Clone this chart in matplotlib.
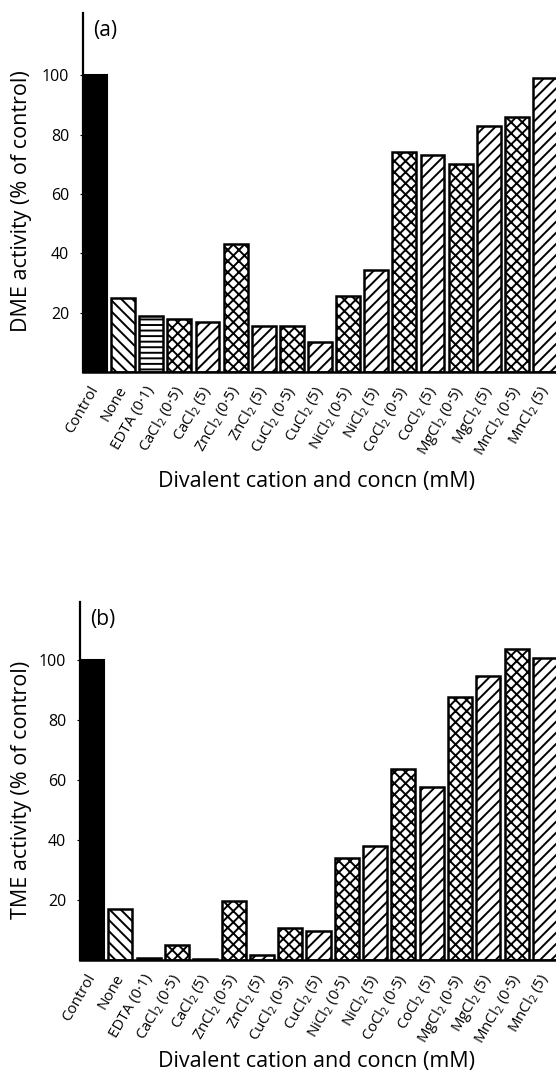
import matplotlib
matplotlib.use("Agg")
import matplotlib.pyplot as plt

plt.rcParams['font.family'] = ['Open Sans', 'DejaVu Sans']
plt.rcParams['hatch.linewidth'] = 1.4
plt.rcParams['mathtext.fontset'] = 'custom'
plt.rcParams['mathtext.rm'] = 'Open Sans'

categories = ['Control', 'None', 'EDTA (0·1)', r'CaCl$_2$ (0·5)', r'CaCl$_2$ (5)',
              r'ZnCl$_2$ (0·5)', r'ZnCl$_2$ (5)', r'CuCl$_2$ (0·5)', r'CuCl$_2$ (5)',
              r'NiCl$_2$ (0·5)', r'NiCl$_2$ (5)', r'CoCl$_2$ (0·5)', r'CoCl$_2$ (5)',
              r'MgCl$_2$ (0·5)', r'MgCl$_2$ (5)', r'MnCl$_2$ (0·5)', r'MnCl$_2$ (5)']
dme_values = [100, 25, 19, 18, 17, 43, 15.5, 15.5, 10, 25.5, 34.5, 74, 73, 70, 83, 86, 99]
tme_values = [100, 17, 0.5, 5, 0.2, 19.5, 1.8, 10.7, 9.8, 34, 38, 63.5, 57.5, 87.5, 94.5, 103.5, 100.5]
hatches = ['', '\\\\\\', '---', 'xxx', '///', 'xxx', '///', 'xxx', '///', 'xxx', '///',
           'xxx', '///', 'xxx', '///', 'xxx', '///']
ytick_vals = [20, 40, 60, 80, 100]

W, H = 556, 1074
fig = plt.figure(figsize=(W / 100, H / 100), dpi=100)

def panel(left, bottom, top, values, ylabel, tag, ytop, xlab_y, ylab_x):
    rect = [left / W, 1 - bottom / H, (W - left + 1) / W, (bottom - top) / H]
    ax = fig.add_axes(rect)
    x = list(range(len(categories)))
    for i, (v, h) in enumerate(zip(values, hatches)):
        if i == 0:
            ax.bar(i, v, width=0.85, color='black', edgecolor='black', linewidth=1.5)
        else:
            ax.bar(i, v, width=0.85, color='white', edgecolor='black', linewidth=1.8, hatch=h)
    ax.set_xlim(-0.425, len(categories) - 1 + 0.425)
    ax.set_ylim(0, ytop)
    for s in ['top', 'right']:
        ax.spines[s].set_visible(False)
    ax.spines['left'].set_linewidth(1.6)
    ax.spines['bottom'].set_linewidth(1.8)
    ax.set_yticks(ytick_vals)
    ax.set_yticklabels([str(t) for t in ytick_vals], fontsize=11.5)
    ax.tick_params(axis='y', length=2, width=0.8, pad=8)
    ax.set_xticks(x)
    ax.set_xticklabels(categories, rotation=60, ha='right', va='center',
                       rotation_mode='anchor', fontsize=10.8)
    ax.tick_params(axis='x', length=0, pad=11)
    ax.set_ylabel(ylabel, fontsize=15.5)
    ax.set_xlabel('Divalent cation and concn (mM)', fontsize=15.5)
    h_px = bottom - top
    w_px = W - left
    ax.xaxis.set_label_coords((316 - left) / w_px, (bottom - xlab_y) / h_px)
    ax.xaxis.label.set_va('center')
    ax.yaxis.set_label_coords((ylab_x - left) / w_px, 0.475)
    ax.yaxis.label.set_va('center')
    ax.text(0.022, 0.98, tag, transform=ax.transAxes, fontsize=15, va='top', ha='left')
    return ax

panel(83, 372, 13, dme_values, 'DME activity (% of control)', '(a)', 121, 482, 22)
panel(80, 960, 602, tme_values, 'TME activity (% of control)', '(b)', 119.3, 1061, 22)

fig.savefig('out.png', dpi=100)
